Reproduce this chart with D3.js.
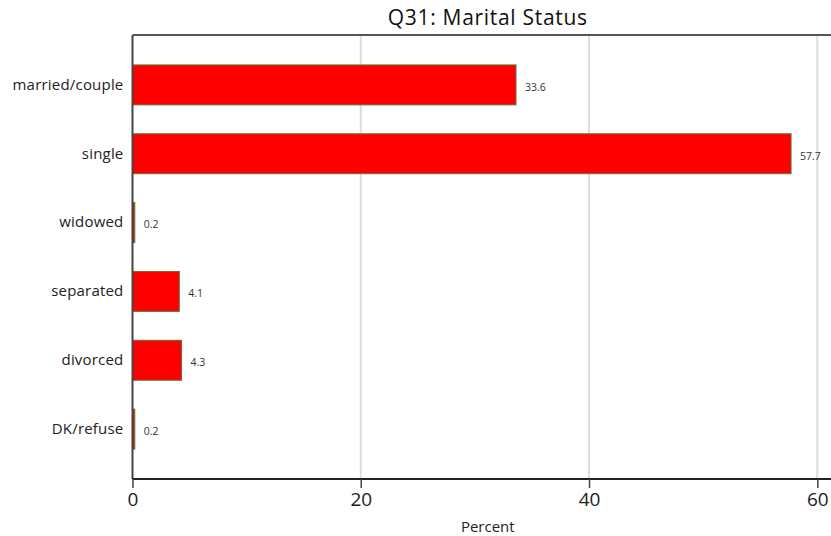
<!DOCTYPE html>
<html>
<head>
<meta charset="utf-8">
<script src="https://cdn.jsdelivr.net/npm/d3@7"></script>
<style>
  body { margin: 0; background: #fff; }
  svg { display: block; font-family: "Open Sans", sans-serif; }
</style>
</head>
<body>
<svg id="chart" width="831" height="536"></svg>
<script>
// data
const categories = ["married/couple", "single", "widowed", "separated", "divorced", "DK/refuse"];
const percents = [33.6, 57.7, 0.2, 4.1, 4.3, 0.2];
const xTicks = [0, 20, 40, 60];
const title = "Q31: Marital Status";
const xLabel = "Percent";

const W = 831, H = 536;
const m = { top: 35, right: 0, bottom: 57, left: 132.5 };

const svg = d3.select("#chart");

const x = d3.scaleLinear()
    .domain([0, 61.2])
    .range([m.left, W - m.right]);

const y = d3.scaleBand()
    .domain(categories)
    .range([m.top, H - m.bottom])
    .paddingInner(0.42)
    .paddingOuter(0.435);

// grid lines
svg.append("g")
    .selectAll("line")
    .data(xTicks.filter(d => d > 0))
    .join("line")
    .attr("x1", d => x(d)).attr("x2", d => x(d))
    .attr("y1", m.top).attr("y2", H - m.bottom)
    .attr("stroke", "#dcdcdc")
    .attr("stroke-width", 2);

// top frame line
svg.append("line")
    .attr("x1", m.left).attr("x2", W)
    .attr("y1", m.top).attr("y2", m.top)
    .attr("stroke", "#555")
    .attr("stroke-width", 2);

// bars
svg.append("g")
    .selectAll("rect")
    .data(categories)
    .join("rect")
    .attr("x", x(0))
    .attr("y", d => y(d))
    .attr("width", (d, i) => x(percents[i]) - x(0))
    .attr("height", y.bandwidth())
    .attr("fill", "#ff0000")
    .attr("stroke", "#5e7432")
    .attr("stroke-width", 1);

// value labels
svg.append("g")
    .selectAll("text")
    .data(categories)
    .join("text")
    .attr("x", (d, i) => x(percents[i]) + 9)
    .attr("y", d => y(d) + y.bandwidth() / 2)
    .attr("dy", "0.55em")
    .attr("font-size", 10.5)
    .attr("fill", "#333")
    .text((d, i) => percents[i].toFixed(1));

// y axis
const yAxis = svg.append("g")
    .attr("transform", `translate(${m.left},0)`)
    .call(d3.axisLeft(y).tickSize(0).tickPadding(9));
yAxis.select(".domain")
    .attr("d", `M0,${m.top}V${H - m.bottom}`)
    .attr("stroke", "#444")
    .attr("stroke-width", 2);
yAxis.selectAll("text")
    .attr("font-size", 15)
    .attr("letter-spacing", 0.2)
    .attr("font-family", "Open Sans, sans-serif")
    .attr("fill", "#222");

// x axis
const xAxis = svg.append("g")
    .attr("transform", `translate(0,${H - m.bottom})`)
    .call(d3.axisBottom(x).tickValues(xTicks).tickSize(9).tickSizeOuter(0).tickPadding(5));
xAxis.select(".domain")
    .attr("d", `M${m.left},0H${W}`)
    .attr("stroke", "#222")
    .attr("stroke-width", 2);
xAxis.selectAll(".tick line").attr("stroke", "#444").attr("stroke-width", 1.5);
xAxis.selectAll("text")
    .attr("font-size", 19)
    .attr("font-family", "Open Sans, sans-serif")
    .attr("fill", "#222");

// titles
svg.append("text")
    .attr("x", (m.left + W) / 2 + 6)
    .attr("y", 25)
    .attr("text-anchor", "middle")
    .attr("font-size", 21)
    .attr("letter-spacing", 0.7)
    .attr("fill", "#111")
    .text(title);

svg.append("text")
    .attr("x", (m.left + W) / 2 + 6)
    .attr("y", 532)
    .attr("text-anchor", "middle")
    .attr("font-size", 15)
    .attr("fill", "#222")
    .text(xLabel);
</script>
</body>
</html>
